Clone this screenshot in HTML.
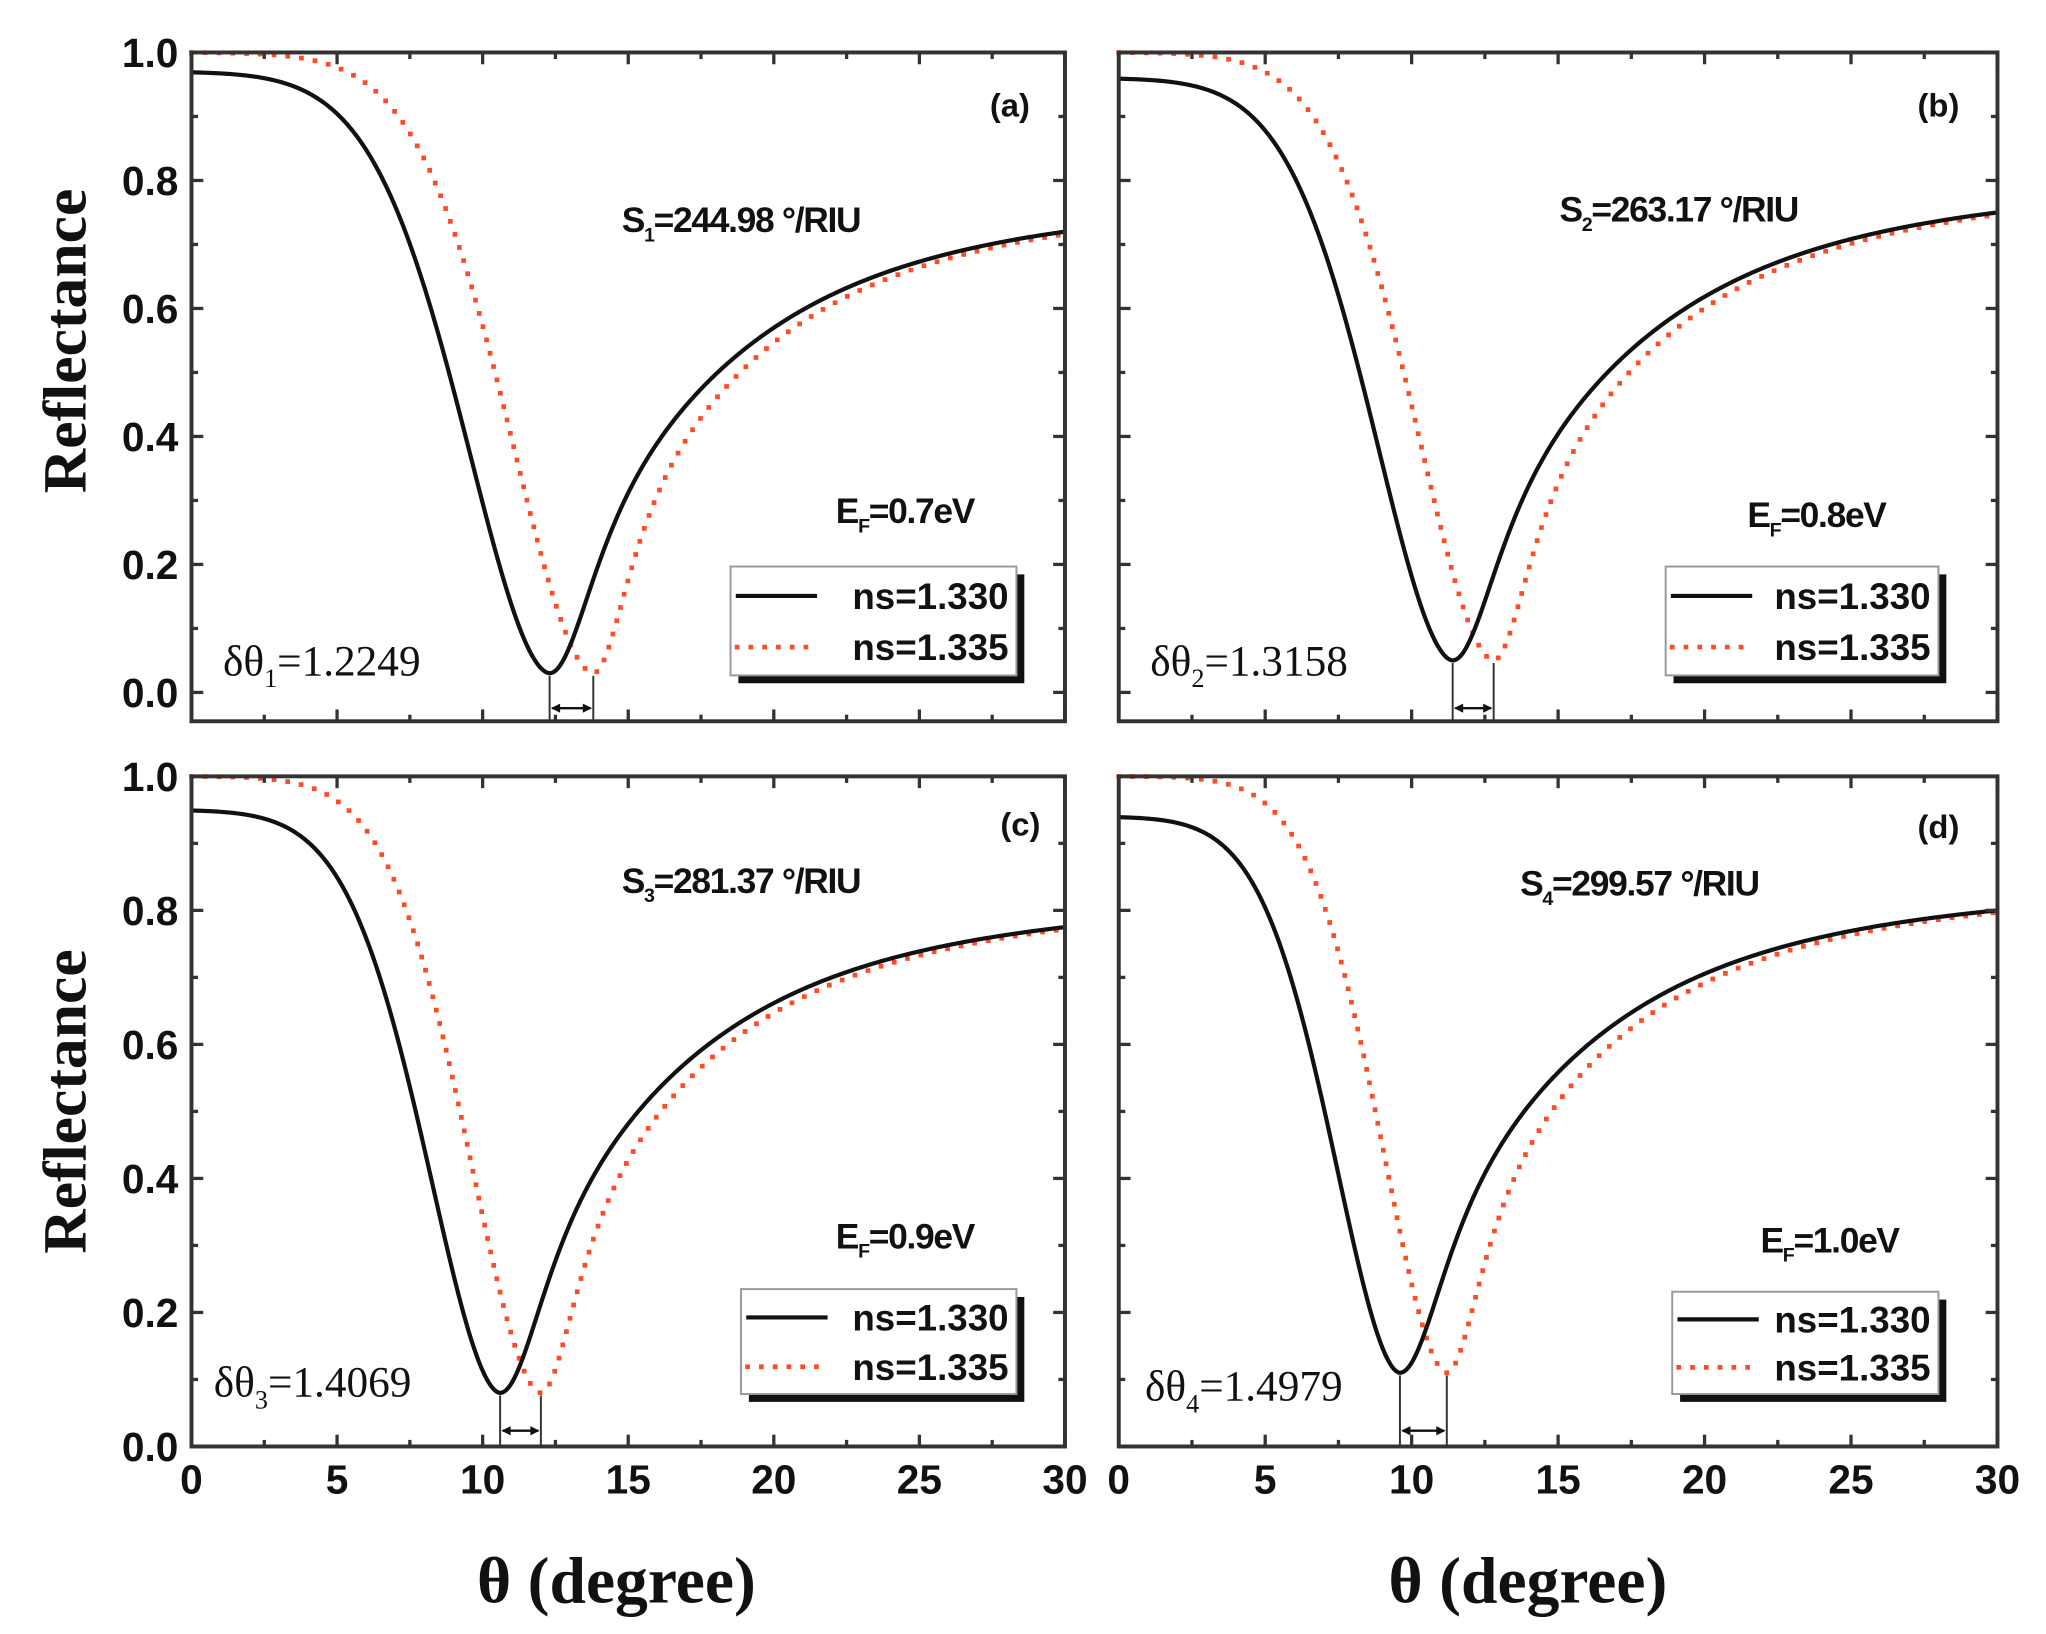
<!DOCTYPE html>
<html><head><meta charset="utf-8">
<style>html,body{margin:0;padding:0;background:#fff;}svg{display:block;}</style>
</head><body>
<svg id="s" xmlns="http://www.w3.org/2000/svg" width="2046" height="1634" viewBox="0 0 1560 1246" preserveAspectRatio="none">
<rect x="0" y="0" width="1560" height="1246" fill="#fff"/>
<g id="g"></g>
<text x="50" y="260" transform="rotate(-90 50 260)" text-anchor="middle" dominant-baseline="central" font-family="Liberation Serif, serif" font-weight="bold" font-size="47" fill="#111">Reflectance</text>
<text x="50" y="840" transform="rotate(-90 50 840)" text-anchor="middle" dominant-baseline="central" font-family="Liberation Serif, serif" font-weight="bold" font-size="47" fill="#111">Reflectance</text>
<text x="470" y="1222" text-anchor="middle" font-family="Liberation Serif, serif" font-weight="bold" font-size="50" fill="#111">θ (degree)</text>
<text x="1165" y="1222" text-anchor="middle" font-family="Liberation Serif, serif" font-weight="bold" font-size="50" fill="#111">θ (degree)</text>
</svg>
<script>
var NS="http://www.w3.org/2000/svg",G=document.getElementById('g');
function el(t,a,txt){var e=document.createElementNS(NS,t);for(var k in a)e.setAttribute(k,a[k]);if(txt!=null)e.textContent=txt;G.appendChild(e);return e;}
function left(th,m,R0,Rmin,wL){var d=Math.max(0,m-th);return Rmin+(R0-Rmin)*(1-Math.exp(-Math.pow(d/wL,1.8)));}
function right(th,m,Rmin,a,b){var d=Math.max(0,th-m),d2=d*d;return Rmin+a*d2/(d2+4.16)+b*d2/(d2+61.7);}
var P=[
 {x0:146,x1:812,y1v:40,y0v:528,yb:550,lab:'(a)',S:'1',Sv:'244.98',EF:'0.7',dt:'1.2249',m:12.3,dm:1.5,R0:0.97,Rmin:0.03,R30:0.72,
  L:[770,80],Sp:[565,168],E:[690,390],lg:[557,432,775,515],dtp:[170,515],ticks:true,xl:false},
 {x0:853,x1:1523,y1v:40,y0v:528,yb:550,lab:'(b)',S:'2',Sv:'263.17',EF:'0.8',dt:'1.3158',m:11.4,dm:1.4,R0:0.96,Rmin:0.05,R30:0.75,
  L:[1478,80],Sp:[1280,160],E:[1385,393],lg:[1270,432,1478,515],dtp:[877,515],ticks:false,xl:false},
 {x0:146,x1:812,y1v:592,y0v:1103,yb:1103,lab:'(c)',S:'3',Sv:'281.37',EF:'0.9',dt:'1.4069',m:10.6,dm:1.4,R0:0.95,Rmin:0.08,R30:0.775,
  L:[778,628],Sp:[565,672],E:[690,943],lg:[565,983,775,1063],dtp:[163,1065],ticks:true,xl:true},
 {x0:853,x1:1523,y1v:592,y0v:1103,yb:1103,lab:'(d)',S:'4',Sv:'299.57',EF:'1.0',dt:'1.4979',m:9.6,dm:1.6,R0:0.94,Rmin:0.11,R30:0.80,
  L:[1478,630],Sp:[1250,674],E:[1395,946],lg:[1275,985,1478,1063],dtp:[873,1068],ticks:true,xl:true}
];
var F='Liberation Sans, Arial, sans-serif';
P.forEach(function(p){
  var X=function(t){return p.x0+(p.x1-p.x0)*t/30;};
  var Y=function(r){return p.y0v+(p.y1v-p.y0v)*r;};
  var top=p.y1v,bot=p.yb;
  var wL=4.24*p.m/12.3,a=0.38;
  var d=30-p.m,d2=d*d;var b=(p.R30-p.Rmin-a*d2/(d2+4.16))/(d2/(d2+61.7));
  var mr=p.m+p.dm;
  function blk(t){return t<=p.m?left(t,p.m,p.R0,p.Rmin,wL):right(t,p.m,p.Rmin,a,b);}
  function red(t){if(t<=mr)return left(t,mr,1.0,p.Rmin,wL);
    var s=p.dm*(0.4+0.6*Math.exp(-(t-mr)/3));return right(t-s,p.m,p.Rmin,a,b);}
  function path(f){var s='';for(var i=0;i<=600;i++){var t=i*30/600;s+=(i?'L':'M')+X(t).toFixed(2)+' '+Y(f(t)).toFixed(2);}return s;}
  el('path',{d:path(red),fill:'none',stroke:'#ff4a26','stroke-width':3.6,'stroke-dasharray':'0 10.5','stroke-linecap':'square'});
  el('path',{d:path(blk),fill:'none',stroke:'#111','stroke-width':3.2});
  el('rect',{x:p.x0,y:top,width:p.x1-p.x0,height:bot-top,fill:'none',stroke:'#333','stroke-width':3});
  for(var t=0;t<=30;t+=2.5){var x=X(t),L=(t%5==0)?9:5;
    el('line',{x1:x,y1:bot,x2:x,y2:bot-L,stroke:'#333','stroke-width':2.5});
    el('line',{x1:x,y1:top,x2:x,y2:top+L,stroke:'#333','stroke-width':2.5});
    if(p.xl&&t%5==0)el('text',{x:x,y:1139,'text-anchor':'middle','font-family':F,'font-weight':'bold','font-size':31,fill:'#111'},String(t));}
  for(var k=0;k<=10;k++){var r=k/10,y=Y(r),L=(k%2==0)?9:5;if(y>bot+0.5)continue;
    el('line',{x1:p.x0,y1:y,x2:p.x0+L,y2:y,stroke:'#333','stroke-width':2.5});
    el('line',{x1:p.x1,y1:y,x2:p.x1-L,y2:y,stroke:'#333','stroke-width':2.5});
    if(p.ticks&&p.x0<200&&k%2==0)el('text',{x:136,y:y+11,'text-anchor':'end','font-family':F,'font-weight':'bold','font-size':31,fill:'#111'},r.toFixed(1));}
  el('text',{x:p.L[0],y:p.L[1]+9,'text-anchor':'middle','font-family':F,'font-weight':'bold','font-size':25,fill:'#111'},p.lab);
  var s=el('text',{x:p.Sp[0],y:p.Sp[1]+9,'text-anchor':'middle','font-family':F,'font-weight':'bold','font-size':27,fill:'#111','letter-spacing':'-1'});
  s.innerHTML='S<tspan font-size="15" dy="7">'+p.S+'</tspan><tspan dy="-7">='+p.Sv+' °/RIU</tspan>';
  var e=el('text',{x:p.E[0],y:p.E[1]+9,'text-anchor':'middle','font-family':F,'font-weight':'bold','font-size':27,fill:'#111','letter-spacing':'-1'});
  e.innerHTML='E<tspan font-size="15" dy="7">F</tspan><tspan dy="-7">='+p.EF+'eV</tspan>';
  var dd=el('text',{x:p.dtp[0],y:p.dtp[1],'font-family':'Liberation Serif, serif','font-size':33,fill:'#111'});
  dd.innerHTML='δθ<tspan font-size="20" dy="9">'+p.S+'</tspan><tspan dy="-9">='+p.dt+'</tspan>';
  var l=p.lg;
  el('rect',{x:l[0]+6,y:l[1]+6,width:l[2]-l[0],height:l[3]-l[1],fill:'#111'});
  el('rect',{x:l[0],y:l[1],width:l[2]-l[0],height:l[3]-l[1],fill:'#fff',stroke:'#999','stroke-width':1.5});
  var h=l[3]-l[1];
  el('line',{x1:l[0]+4,y1:l[1]+h*0.27,x2:l[0]+66,y2:l[1]+h*0.27,stroke:'#111','stroke-width':3.2});
  el('line',{x1:l[0]+5,y1:l[1]+h*0.74,x2:l[0]+64,y2:l[1]+h*0.74,stroke:'#ff4a26','stroke-width':3.6,'stroke-dasharray':'0 10.5','stroke-linecap':'square'});
  el('text',{x:l[2]-6,y:l[1]+h*0.27+10,'text-anchor':'end','font-family':F,'font-weight':'bold','font-size':28,fill:'#111'},'ns=1.330');
  el('text',{x:l[2]-6,y:l[1]+h*0.74+10,'text-anchor':'end','font-family':F,'font-weight':'bold','font-size':28,fill:'#111'},'ns=1.335');
  var xa=X(p.m),xb=X(mr),ym=Y(p.Rmin)+2,yend=bot;
  el('line',{x1:xa,y1:ym,x2:xa,y2:yend,stroke:'#333','stroke-width':1.5});
  el('line',{x1:xb,y1:ym,x2:xb,y2:yend,stroke:'#333','stroke-width':1.5});
  var ya=(p.yb==p.y0v)?bot-12:bot-10;
  el('line',{x1:xa+2,y1:ya,x2:xb-2,y2:ya,stroke:'#111','stroke-width':1.8});
  el('path',{d:'M'+(xa+1)+' '+ya+'l7 -3.5v7z M'+(xb-1)+' '+ya+'l-7 -3.5v7z',fill:'#111'});
});
</script>
</body></html>
